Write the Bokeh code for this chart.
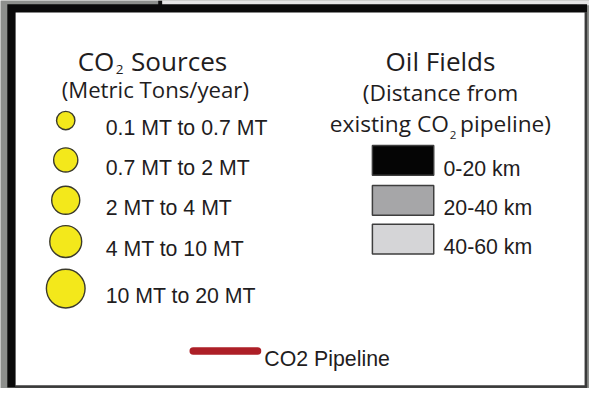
from bokeh.plotting import figure
from bokeh.models import Range1d, ColumnDataSource
from bokeh.core.properties import value
from bokeh.embed import file_html
from bokeh.resources import INLINE

# ---------------- data ----------------
source_title = "CO"
source_title_sub = "2"
source_title_rest = "Sources"
source_subtitle = "(Metric Tons/year)"
source_labels = ["0.1 MT to 0.7 MT", "0.7 MT to 2 MT", "2 MT to 4 MT",
                 "4 MT to 10 MT", "10 MT to 20 MT"]

oil_title = "Oil Fields"
oil_subtitle_1 = "(Distance from"
oil_subtitle_2a = "existing CO"
oil_subtitle_2b = "2"
oil_subtitle_2c = "pipeline)"
oil_labels = ["0-20 km", "20-40 km", "40-60 km"]

pipeline_label = "CO2 Pipeline"

# ---------------- layout / style ----------------
W, H = 589, 388
REF_W, REF_H = 605, 404
SX, SY = W / REF_W, H / REF_H
S = (SX + SY) / 2

def fs(px):
    return value(f"{px * S:.1f}px")

marker_diam = [19, 25, 29, 33, 40]
src_row_y = [125, 166, 208, 251, 300]
oil_row_y = [166.5, 208, 248.5]
oil_colors = ["#050505", "#a6a6a8", "#d5d5d7"]
circle_x = 67
src_label_x = 108
box_left, box_right, box_h = 382, 445, 31
oil_label_x = 455
TEXT = "#1f1d1e"
TITLE_FONT = "Open Sans"
LABEL_FONT = "Liberation Sans"

p = figure(width=W, height=H, x_range=Range1d(0, REF_W), y_range=Range1d(REF_H, 0),
           output_backend="svg", toolbar_location=None, min_border=0)
p.axis.visible = False
p.grid.visible = False
p.outline_line_color = None
p.background_fill_color = "#8d8f8c"
p.border_fill_color = "#8d8f8c"

# frame
p.quad(left=[166], right=[REF_W], top=[0], bottom=[5], fill_color="#e6e6e6", line_color=None)
p.quad(left=[162], right=[166], top=[0], bottom=[5], fill_color="#111111", line_color=None)
p.quad(left=[7], right=[602.5], top=[4], bottom=[403], fill_color="#0a0a0a", line_color=None)
p.quad(left=[600], right=[602.5], top=[12], bottom=[403], fill_color="#3a3a3a", line_color=None)
p.quad(left=[15], right=[602.5], top=[400], bottom=[403], fill_color="#3a3a3a", line_color=None)
p.quad(left=[15.5], right=[600], top=[12.5], bottom=[400.5], fill_color="#ffffff", line_color=None)

# ---- CO2 sources title ----
p.text(x=[117], y=[63], text=[source_title], text_font=value(TITLE_FONT),
       text_font_size=fs(27), text_align="right", text_baseline="alphabetic", text_color=TEXT)
p.text(x=[118.5], y=[72], text=[source_title_sub], text_font=value(TITLE_FONT),
       text_font_size=fs(14), text_align="left", text_baseline="alphabetic", text_color=TEXT)
p.text(x=[134], y=[63], text=[source_title_rest], text_font=value(TITLE_FONT),
       text_font_size=fs(27), text_align="left", text_baseline="alphabetic", text_color=TEXT)
p.text(x=[159], y=[93], text=[source_subtitle], text_font=value(TITLE_FONT),
       text_font_size=fs(23), text_align="center", text_baseline="alphabetic", text_color=TEXT)

src = ColumnDataSource(dict(
    x=[circle_x] * len(source_labels),
    y=src_row_y,
    size=[d * S for d in marker_diam],
    lx=[src_label_x] * len(source_labels),
    ly=[y + 8 for y in src_row_y],
    label=source_labels,
))
p.scatter(x="x", y="y", size="size", source=src, marker="circle",
          fill_color="#f3e81b", line_color="#3b3a2c", line_width=1.4)
p.text(x="lx", y="ly", text="label", source=src, text_font=value(LABEL_FONT),
       text_font_size=fs(22), text_align="left", text_baseline="alphabetic", text_color=TEXT)

# ---- Oil fields ----
p.text(x=[452], y=[63], text=[oil_title], text_font=value(TITLE_FONT),
       text_font_size=fs(27), text_align="center", text_baseline="alphabetic", text_color=TEXT)
p.text(x=[452], y=[96], text=[oil_subtitle_1], text_font=value(TITLE_FONT),
       text_font_size=fs(23.5), text_align="center", text_baseline="alphabetic", text_color=TEXT)
p.text(x=[460.5], y=[128], text=[oil_subtitle_2a], text_font=value(TITLE_FONT),
       text_font_size=fs(23.5), text_align="right", text_baseline="alphabetic", text_color=TEXT)
p.text(x=[461.5], y=[140], text=[oil_subtitle_2b], text_font=value(TITLE_FONT),
       text_font_size=fs(12), text_align="left", text_baseline="alphabetic", text_color=TEXT)
p.text(x=[472], y=[128], text=[oil_subtitle_2c], text_font=value(TITLE_FONT),
       text_font_size=fs(23.5), text_align="left", text_baseline="alphabetic", text_color=TEXT)

oil = ColumnDataSource(dict(
    left=[box_left] * len(oil_labels),
    right=[box_right] * len(oil_labels),
    top=[y - box_h / 2 for y in oil_row_y],
    bottom=[y + box_h / 2 for y in oil_row_y],
    color=oil_colors,
    lx=[oil_label_x] * len(oil_labels),
    ly=[y + 8.5 for y in oil_row_y],
    label=oil_labels,
))
p.quad(left="left", right="right", top="top", bottom="bottom", source=oil,
       fill_color="color", line_color="#3e3e3e", line_width=1.5)
p.text(x="lx", y="ly", text="label", source=oil, text_font=value(LABEL_FONT),
       text_font_size=fs(22), text_align="left", text_baseline="alphabetic", text_color=TEXT)

# ---- pipeline ----
p.line(x=[198, 264], y=[365, 365], line_color="#ad1f27", line_width=7.5, line_cap="round")
p.text(x=[271], y=[373], text=[pipeline_label], text_font=value(LABEL_FONT),
       text_font_size=fs(22), text_align="left", text_baseline="alphabetic", text_color=TEXT)

open("out.html", "w").write(file_html(p, INLINE))
